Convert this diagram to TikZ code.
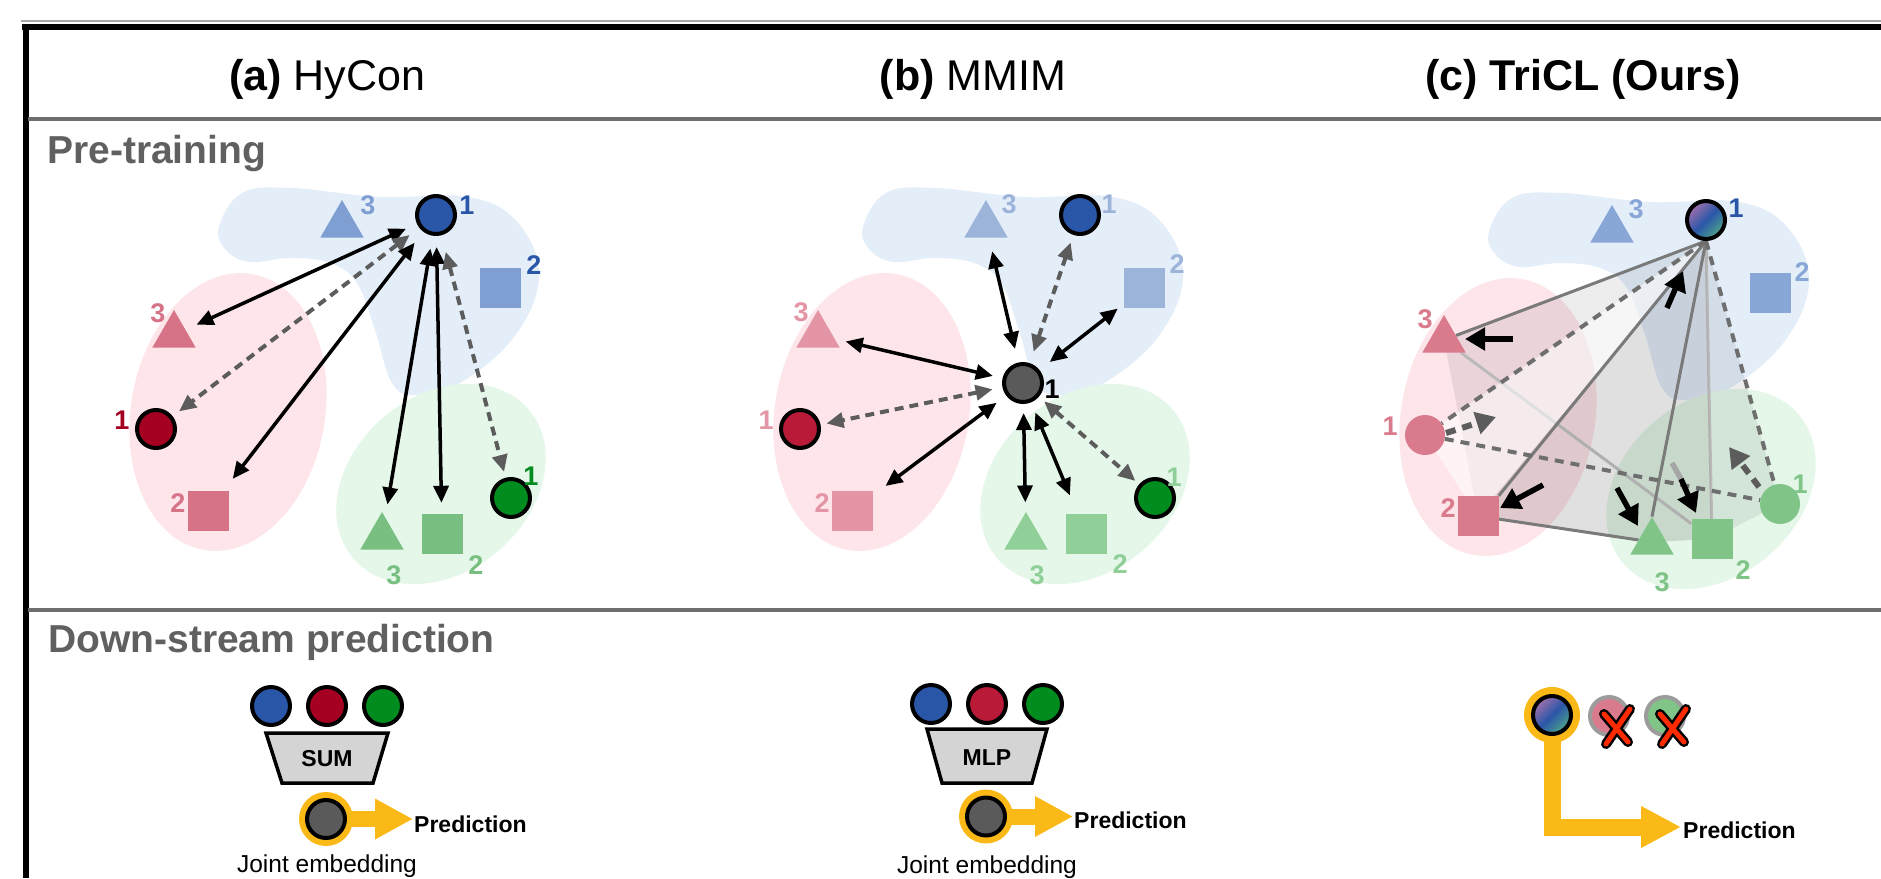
\documentclass[tikz,border=0pt]{standalone}
\usepackage{fontspec}
\setmainfont{Liberation Sans}
\usetikzlibrary{arrows.meta,shapes.geometric}
\pgfdeclarelayer{bg}
\pgfdeclarelayer{mid}
\pgfsetlayers{bg,mid,main}

% palette
\definecolor{bdk}{HTML}{2A56A8}
\definecolor{bmidA}{HTML}{7F9FD3}
\definecolor{bltB}{HTML}{9DB4DA}
\definecolor{bmidC}{HTML}{88A6D6}
\definecolor{rdkA}{HTML}{A50021}
\definecolor{rmidA}{HTML}{D77386}
\definecolor{rdkB}{HTML}{B81A38}
\definecolor{rltB}{HTML}{E495A5}
\definecolor{rmidC}{HTML}{D97A8D}
\definecolor{gdk}{HTML}{008C1E}
\definecolor{gmidA}{HTML}{79BF81}
\definecolor{gltB}{HTML}{90CF97}
\definecolor{gmidC}{HTML}{80C488}
\definecolor{blobB}{HTML}{E4EEF9}
\definecolor{blobR}{HTML}{FDE5EA}
\definecolor{blobG}{HTML}{E4F7E9}
\definecolor{embgray}{HTML}{5A5A5A}
\definecolor{amber}{HTML}{FBB917}
\definecolor{arrgray}{HTML}{5C5C5C}
\definecolor{hdgray}{HTML}{606060}
\definecolor{rulegray}{HTML}{6E6E6E}
\definecolor{thingray}{HTML}{A8A8A8}
\definecolor{trapgray}{HTML}{D4D4D4}
\definecolor{edgegray}{HTML}{7A7A7A}
\definecolor{edgelight}{HTML}{C9C9C9}
\definecolor{dashgray}{HTML}{6E6E6E}
\definecolor{ringgray}{HTML}{9C9C9C}
\definecolor{xred}{HTML}{FF2A00}
\definecolor{gpurple}{HTML}{A070AC}
\definecolor{gteal}{HTML}{4FA58C}

\newcommand{\fsz}[1]{\fontsize{#1}{#1}\selectfont}

% the three modality clouds, in the local coordinates of one panel
\newcommand{\panelblobs}{%
  \fill[blobB] plot[smooth cycle, tension=0.65] coordinates {(219,227) (242,193) (291,188) (380,197) (469,197) (518,223) (539,277) (514,337) (460,383) (416,395) (392,383) (375,330) (357,283) (330,263) (290,258) (250,262) (226,250)};
  \fill[blobR, rotate around={-10:(228,412)}] (228,412) ellipse [x radius=97, y radius=140];
  \fill[blobG, rotate around={40:(441,484)}] (441,484) ellipse [x radius=115, y radius=88];
}

\begin{document}
\begin{tikzpicture}[x=1pt,y=-1pt,
  tri/.style={regular polygon, regular polygon sides=3, minimum size=50pt, inner sep=0pt, fill=#1},
  sqr/.style={rectangle, minimum width=41pt, minimum height=40pt, inner sep=0pt, fill=#1},
  ringdot/.style={circle, minimum size=38pt, inner sep=0pt, fill=#1, draw=black, line width=4pt},
  plaindot/.style={circle, minimum size=40pt, inner sep=0pt, fill=#1},
  greydot/.style={circle, minimum size=38pt, inner sep=0pt, fill=#1, draw=ringgray, line width=4pt},
  gdot/.style={circle, minimum size=38pt, inner sep=0pt, draw=black, line width=4pt,
    top color=gpurple, bottom color=gteal, middle color=bdk, shading angle=45},
  yring/.style={circle, minimum size=54pt, inner sep=0pt, fill=amber},
  num/.style={text=#1, font=\bfseries\fsz{27}, inner sep=0pt},
  ht/.tip={Triangle[length=17pt,width=15pt]},
  sarr/.style={line width=3.5pt, black, ht-ht},
  darr/.style={line width=4pt, arrgray, dash pattern=on 9pt off 6pt, ht-ht},
  farr/.style={line width=5.5pt, black, -{Triangle[length=20pt,width=22pt]}},
  fdarr/.style={line width=6pt, arrgray, dash pattern=on 10pt off 7pt, -{Triangle[length=20pt,width=22pt]}},
  tline/.style={line width=3pt, edgegray},
  tlight/.style={line width=3pt, edgelight},
  tdash/.style={line width=4pt, dashgray, dash pattern=on 9pt off 7pt},
  yarr/.style={amber, line width=16pt, line join=miter, -{Triangle[length=38pt,width=38pt]}},
  trap/.style={fill=trapgray, draw=black, line width=3.5pt, line join=miter},
  title/.style={anchor=base, font=\fsz{43}, inner sep=0pt},
  section/.style={anchor=base west, font=\bfseries\fsz{39}, text=hdgray, inner sep=0pt},
  boxlab/.style={font=\bfseries\fsz{23}, inner sep=0pt},
  predlab/.style={anchor=base west, font=\bfseries\fsz{23}, inner sep=0pt},
  jointlab/.style={anchor=base, font=\fsz{24.5}, inner sep=0pt},
  xstroke/.style={line width=#1, line cap=round}
]
\useasboundingbox (0,0) rectangle (1881,878);
\begin{pgfonlayer}{bg}
  \fill[white] (0,0) rectangle (1881,878);
\end{pgfonlayer}

% ---------- frame ----------
\draw[thingray, line width=1.5pt] (21,21) -- (1881,21);
\draw[black, line width=6pt] (22,27) -- (1881,27);
\draw[black, line width=6pt] (25.5,24) -- (25.5,878);
\draw[rulegray, line width=3.5pt] (28,119) -- (1881,119);
\draw[rulegray, line width=3.5pt] (28,610) -- (1881,610);

% ---------- headings ----------
\node[title] (ttlA) at (327,90) {\textbf{(a)} HyCon};
\node[title] (ttlB) at (973,90) {\textbf{(b)} MMIM};
\node[title] (ttlC) at (1583,90) {\textbf{(c) TriCL (Ours)}};
\node[section] (secPre) at (47,163) {Pre-training};
\node[section] (secDown) at (48,652) {Down-stream prediction};

% ========== (a) HyCon : pre-training ==========
\begin{scope}
  \begin{pgfonlayer}{bg}\panelblobs\end{pgfonlayer}
  \node[tri=bmidA] (aB3) at (342,225) {};
  \node[ringdot=bdk] (aB1) at (436,215) {};
  \node[sqr=bmidA] (aB2) at (500,288) {};
  \node[tri=rmidA] (aR3) at (174,335) {};
  \node[ringdot=rdkA] (aR1) at (156,429) {};
  \node[sqr=rmidA] (aR2) at (208,511) {};
  \node[tri=gmidA] (aG3) at (382,537) {};
  \node[sqr=gmidA] (aG2) at (442,534) {};
  \node[ringdot=gdk] (aG1) at (511,498) {};
  \node[num=bmidA] (aB3n) at (368,205) {3};
  \node[num=bdk] (aB1n) at (467,205) {1};
  \node[num=bdk] (aB2n) at (534,265) {2};
  \node[num=rmidA] (aR3n) at (158,313) {3};
  \node[num=rdkA] (aR1n) at (122,420) {1};
  \node[num=rmidA] (aR2n) at (178,503) {2};
  \node[num=gmidA] (aG3n) at (394,575) {3};
  \node[num=gmidA] (aG2n) at (476,565) {2};
  \node[num=gdk] (aG1n) at (531,476) {1};
  \draw[sarr, shorten <=12pt, shorten >=12pt] (aB1) -- (aR3);
  \draw[darr, shorten <=12pt, shorten >=8pt] (aB1) -- (aR1);
  \draw[sarr, shorten <=14pt, shorten >=15pt] (aB1) -- (aR2);
  \draw[sarr, shorten <=13pt, shorten >=13pt] (aB1) -- (aG3);
  \draw[sarr, shorten <=11pt, shorten >=11pt] (aB1) -- (aG2);
  \draw[darr, shorten <=17pt, shorten >=6pt] (aB1) -- (aG1);
\end{scope}

% ========== (b) MMIM : pre-training ==========
\begin{scope}[shift={(644,0)}]
  \begin{pgfonlayer}{bg}\panelblobs\end{pgfonlayer}
  \node[tri=bltB] (bB3) at (342,225) {};
  \node[ringdot=bdk] (bB1) at (436,215) {};
  \node[sqr=bltB] (bB2) at (500,288) {};
  \node[tri=rltB] (bR3) at (174,335) {};
  \node[ringdot=rdkB] (bR1) at (156,429) {};
  \node[sqr=rltB] (bR2) at (208,511) {};
  \node[tri=gltB] (bG3) at (382,537) {};
  \node[sqr=gltB] (bG2) at (442,534) {};
  \node[ringdot=gdk] (bG1) at (511,498) {};
  \node[ringdot=embgray] (bC) at (379,383) {};
  \node[num=bltB] (bB3n) at (365,204) {3};
  \node[num=bltB] (bB1n) at (465,204) {1};
  \node[num=bltB] (bB2n) at (533,264) {2};
  \node[num=rltB] (bR3n) at (157,312) {3};
  \node[num=rltB] (bR1n) at (122,420) {1};
  \node[num=rltB] (bR2n) at (178,503) {2};
  \node[num=gltB] (bG3n) at (393,575) {3};
  \node[num=gltB] (bG2n) at (476,564) {2};
  \node[num=gltB] (bG1n) at (530,477) {1};
  \node[num=black] (bCn) at (408,389) {1};
  \draw[sarr, shorten <=14pt, shorten >=14pt] (bC) -- (bB3);
  \draw[darr, shorten <=12pt, shorten >=8pt] (bC) -- (bB1);
  \draw[sarr, shorten <=13pt, shorten >=7pt] (bC) -- (bB2);
  \draw[sarr, shorten <=10pt, shorten >=11pt] (bC) -- (bR3);
  \draw[darr, shorten <=10pt, shorten >=6pt] (bC) -- (bR1);
  \draw[sarr, shorten <=12pt, shorten >=16pt] (bC) -- (bR2);
  \draw[sarr, shorten <=9pt, shorten >=10pt] (bC) -- (bG3);
  \draw[sarr, shorten <=11pt, shorten >=20pt] (bC) -- (bG2);
  \draw[darr, shorten <=7pt, shorten >=5pt] (bC) -- (bG1);
\end{scope}

% ========== (c) TriCL : pre-training ==========
\begin{scope}[shift={(1270,5)}]
  \begin{pgfonlayer}{bg}\panelblobs\end{pgfonlayer}
  \node[tri=bmidC] (cB3) at (342,225) {};
  \node[gdot] (cA) at (436,215) {};
  \node[sqr=bmidC] (cB2) at (500,288) {};
  \node[tri=rmidC] (cR3) at (174,335) {};
  \node[plaindot=rmidC] (cR1) at (155,430) {};
  \node[sqr=rmidC] (cR2) at (208,511) {};
  \node[tri=gmidC] (cG3) at (382,537) {};
  \node[sqr=gmidC] (cG2) at (442,534) {};
  \node[plaindot=gmidC] (cG1) at (510,499) {};
  \node[num=bmidC] (cB3n) at (366,204) {3};
  \node[num=bdk] (cB1n) at (466,203) {1};
  \node[num=bmidC] (cB2n) at (532,267) {2};
  \node[num=rmidC] (cR3n) at (155,314) {3};
  \node[num=rmidC] (cR1n) at (120,421) {1};
  \node[num=rmidC] (cR2n) at (178,503) {2};
  \node[num=gmidC] (cG3n) at (392,577) {3};
  \node[num=gmidC] (cG2n) at (473,565) {2};
  \node[num=gmidC] (cG1n) at (530,479) {1};
  % simplex faces and edges
  \begin{pgfonlayer}{mid}
    \draw[tlight] (cA.south) -- (cG2);
    \draw[tlight] (cR3) -- (cG2);
    \fill[black, opacity=0.07] (cA.south) -- (cR3.center) -- (cR2.center) -- (cG3.center) -- (cG2.center) -- (cG1.center) -- cycle;
    \fill[black, opacity=0.05] (cA.south) -- (cR2.center) -- (cG3.center) -- (cG2.center) -- cycle;
    \fill[white, opacity=0.55] (cA.south) -- (cR1.center) -- (cR2.center) -- cycle;
    \draw[tline] (cA.south) -- (cR3);
    \draw[tline] (cA.south) -- (cR2.north east);
    \draw[tline] (cA.south) -- (cG3.corner 1);
    \draw[tline] (cR2) -- (cG3);
    \draw[tdash] (cA.south) -- (cR1);
    \draw[tdash] (cR1) -- (cG1);
    \draw[tdash] (cA.south) -- (cG1);
  \end{pgfonlayer}
  % pulling forces
  \coordinate (cF1s) at (243,334); \coordinate (cF1e) at (195,334);
  \coordinate (cF2s) at (397,303); \coordinate (cF2e) at (413,266);
  \coordinate (cF3s) at (273,480); \coordinate (cF3e) at (230,503);
  \coordinate (cF4s) at (347,483); \coordinate (cF4e) at (368,521);
  \coordinate (cF5t) at (402,458); \coordinate (cF5s) at (411,474); \coordinate (cF5e) at (426,508);
  \coordinate (cF6s) at (176,428); \coordinate (cF6e) at (226,412);
  \coordinate (cF7s) at (489,482); \coordinate (cF7e) at (459,442);
  \draw[farr] (cF1s) -- (cF1e);
  \draw[farr] (cF2s) -- (cF2e);
  \draw[farr] (cF3s) -- (cF3e);
  \draw[farr] (cF4s) -- (cF4e);
  \draw[line width=5.5pt, black!35] (cF5t) -- (cF5s);
  \draw[farr] (cF5s) -- (cF5e);
  \draw[fdarr] (cF6s) -- (cF6e);
  \draw[fdarr] (cF7s) -- (cF7e);
\end{scope}

% ========== (a) HyCon : down-stream ==========
\node[ringdot=bdk] (aD1) at (271,706) {};
\node[ringdot=rdkA] (aD2) at (327,706) {};
\node[ringdot=gdk] (aD3) at (383,706) {};
\draw[trap] (266,733) -- (388,733) -- (373,783) -- (282,783) -- cycle;
\node[boxlab] (aSum) at (327,759) {SUM};
\node[yring] (aJring) at (326,819) {};
\coordinate (aTip) at (413,819);
\draw[yarr] (aJring.center) -- (aTip);
\node[ringdot=embgray] (aJ) at (326,819) {};
\node[predlab] (aPred) at (414,832) {Prediction};
\node[jointlab] (aJlab) at (327,872) {Joint embedding};

% ========== (b) MMIM : down-stream ==========
\node[ringdot=bdk] (bD1) at (931,704) {};
\node[ringdot=rdkB] (bD2) at (987,704) {};
\node[ringdot=gdk] (bD3) at (1043,704) {};
\draw[trap] (927,729) -- (1047,729) -- (1032,783) -- (942,783) -- cycle;
\node[boxlab] (bMlp) at (987,757.5) {MLP};
\node[yring] (bJring) at (986,816.5) {};
\coordinate (bTip) at (1073,816.5);
\draw[yarr] (bJring.center) -- (bTip);
\node[ringdot=embgray] (bJ) at (986,816.5) {};
\node[predlab] (bPred) at (1074,828) {Prediction};
\node[jointlab] (bJlab) at (987,873) {Joint embedding};

% ========== (c) TriCL : down-stream ==========
\coordinate (cTip) at (1681,827);
\node[yring, minimum size=56pt] (cJring) at (1552,715) {};
\draw[amber, line width=17pt, line join=miter, -{Triangle[length=40pt,width=39pt]}] (cJring.center) |- (cTip);
\node[gdot] (cJ) at (1552,715) {};
\node[greydot=rmidC] (cDr) at (1609,716) {};
\node[greydot=gmidC] (cDg) at (1665,716) {};
\foreach \c in {cDr,cDg}{
  \begin{scope}[shift={(\c.center)}]
    \draw[xstroke=10pt, black] (21,-7) -- (-3,28);
    \draw[xstroke=10pt, black] (-5,-2) -- (19,26);
    \draw[xstroke=5pt, xred] (21,-7) -- (-3,28);
    \draw[xstroke=5pt, xred] (-5,-2) -- (19,26);
  \end{scope}
}
\node[predlab] (cPred) at (1683,838) {Prediction};

\end{tikzpicture}
\end{document}
